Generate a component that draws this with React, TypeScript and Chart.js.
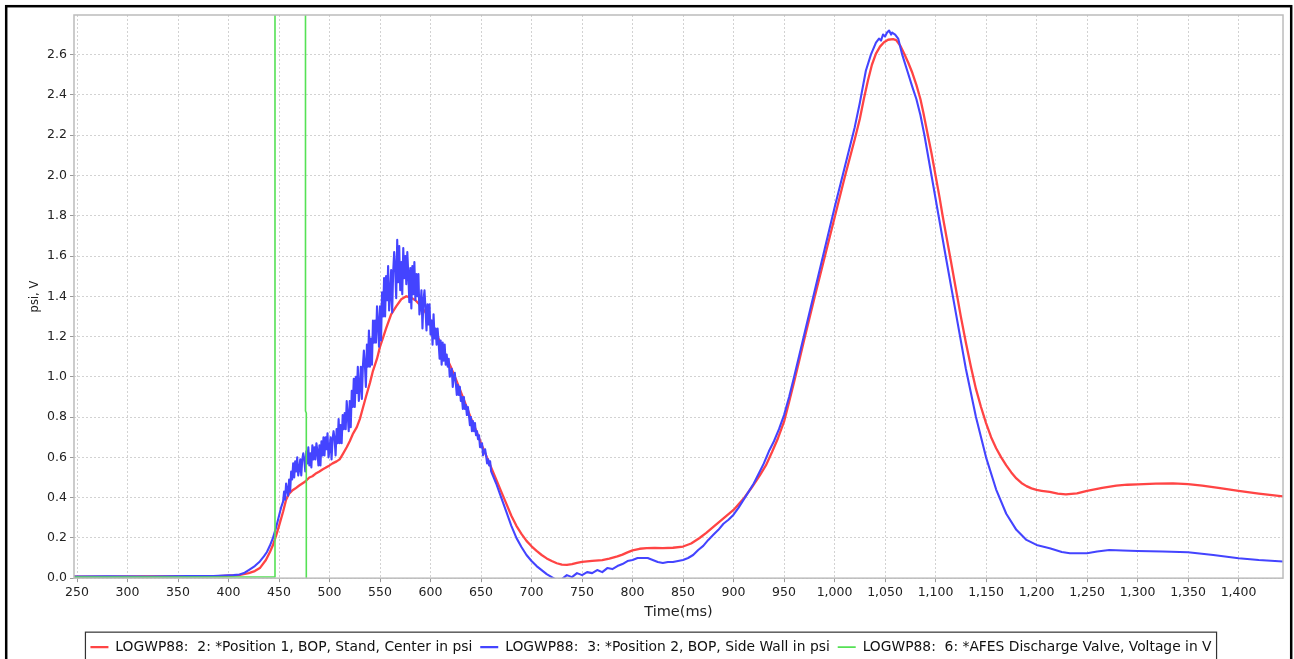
import React, { useEffect, useRef } from "react";
import { Chart, registerables } from "chart.js";

Chart.register(...registerables);

// Time axis range (ms) and psi / V range
const timeMin = 247;
const timeMax = 1444;
const valueMin = 0;
const valueMax = 2.797;
const timeStep = 50;
const valueStep = 0.2;

const xAxisTitle = "Time(ms)";
const yAxisTitle = "psi, V";

const seriesNames = [
  "LOGWP88:  2: *Position 1, BOP, Stand, Center in psi",
  "LOGWP88:  3: *Position 2, BOP, Side Wall in psi",
  "LOGWP88:  6: *AFES Discharge Valve, Voltage in V",
];

// Position 1 (stand, center) pressure trace: [time ms, psi]
const position1: [number, number][] = [
  [247, 0.008], [280, 0.008], [320, 0.009], [360, 0.009], [390, 0.01], [400, 0.012],
  [410, 0.015], [420, 0.025], [426, 0.035], [431, 0.05], [437, 0.09], [441, 0.13],
  [444, 0.165], [447, 0.21], [450, 0.26], [454, 0.33], [457, 0.39], [460, 0.42],
  [463, 0.435], [466, 0.445], [470, 0.46], [473, 0.47], [476, 0.48], [480, 0.5],
  [483, 0.506], [486, 0.518], [490, 0.53], [493, 0.54], [496, 0.548], [500, 0.56],
  [503, 0.57], [507, 0.58], [510, 0.59], [513, 0.615], [517, 0.65], [520, 0.68],
  [523, 0.715], [527, 0.75], [530, 0.79], [533, 0.845], [536, 0.9], [540, 0.97],
  [543, 1.03], [547, 1.09], [550, 1.15], [553, 1.195], [556, 1.24], [561, 1.31],
  [566, 1.35], [571, 1.385], [576, 1.4], [580, 1.395], [585, 1.38], [590, 1.355],
  [595, 1.32], [600, 1.28], [605, 1.225], [610, 1.165], [615, 1.105], [620, 1.05],
  [625, 0.99], [630, 0.925], [635, 0.86], [640, 0.795], [645, 0.735], [650, 0.67],
  [655, 0.61], [660, 0.55], [665, 0.49], [670, 0.43], [675, 0.37], [680, 0.31],
  [685, 0.26], [690, 0.22], [695, 0.185], [700, 0.158], [705, 0.135], [710, 0.115],
  [715, 0.098], [720, 0.085], [725, 0.074], [730, 0.067], [735, 0.066], [740, 0.07],
  [745, 0.076], [750, 0.081], [760, 0.086], [770, 0.09], [777, 0.097], [785, 0.108],
  [790, 0.117], [795, 0.128], [800, 0.138], [807, 0.146], [814, 0.149], [822, 0.15],
  [830, 0.149], [840, 0.151], [850, 0.157], [858, 0.172], [866, 0.198], [873, 0.225],
  [880, 0.255], [890, 0.297], [900, 0.339], [910, 0.395], [918, 0.45], [926, 0.51],
  [932, 0.56], [938, 0.625], [944, 0.695], [950, 0.777], [955, 0.875], [960, 0.975],
  [965, 1.08], [970, 1.185], [980, 1.39], [990, 1.59], [1000, 1.79], [1010, 1.99],
  [1020, 2.18], [1025, 2.28], [1029, 2.38], [1033, 2.47], [1037, 2.55], [1041, 2.605],
  [1045, 2.64], [1049, 2.662], [1053, 2.674], [1058, 2.677], [1061, 2.672], [1065, 2.645],
  [1069, 2.605], [1073, 2.56], [1077, 2.51], [1081, 2.45], [1085, 2.38], [1088, 2.31],
  [1092, 2.21], [1096, 2.11], [1100, 2.0], [1104, 1.89], [1107, 1.8], [1111, 1.69],
  [1115, 1.58], [1120, 1.44], [1125, 1.3], [1130, 1.17], [1135, 1.05], [1140, 0.94],
  [1145, 0.85], [1150, 0.77], [1155, 0.7], [1160, 0.645], [1165, 0.6], [1170, 0.56],
  [1175, 0.525], [1180, 0.495], [1185, 0.473], [1190, 0.457], [1195, 0.446], [1200, 0.438],
  [1205, 0.434], [1213, 0.428], [1221, 0.42], [1229, 0.416], [1240, 0.421], [1250, 0.433],
  [1265, 0.448], [1279, 0.46], [1290, 0.464], [1300, 0.466], [1318, 0.469], [1335, 0.471],
  [1350, 0.467], [1364, 0.46], [1380, 0.448], [1400, 0.433], [1420, 0.42], [1444, 0.406],
];

// Position 2 (side wall) pressure trace before the noisy burst: [time ms, psi]
const position2Rise: [number, number][] = [
  [247, 0.008], [280, 0.009], [320, 0.008], [360, 0.01], [385, 0.011], [395, 0.013],
  [405, 0.015], [411, 0.018], [416, 0.027], [420, 0.04], [426, 0.06], [431, 0.083],
  [435, 0.108], [438, 0.13], [441, 0.162], [444, 0.2], [447, 0.25], [450, 0.31],
  [452, 0.35], [454, 0.38],
];

// Position 2 samples during the noisy burst, one per ms starting at 455 ms
const position2BurstStart = 455;
const position2Burst: number[] = [
  0.43, 0.39, 0.47, 0.44, 0.41, 0.49, 0.43, 0.53, 0.49, 0.57,
  0.50, 0.58, 0.53, 0.60, 0.51, 0.54, 0.59, 0.51, 0.59, 0.62,
  0.59, 0.53, 0.63, 0.57, 0.65, 0.56, 0.62, 0.55, 0.66, 0.59,
  0.65, 0.59, 0.67, 0.63, 0.56, 0.66, 0.56, 0.68, 0.61, 0.70,
  0.61, 0.70, 0.64, 0.72, 0.60, 0.64, 0.70, 0.59, 0.69, 0.73,
  0.69, 0.61, 0.74, 0.67, 0.79, 0.67, 0.76, 0.67, 0.81, 0.74,
  0.82, 0.74, 0.88, 0.81, 0.73, 0.88, 0.75, 0.93, 0.85, 0.99,
  0.85, 1.00, 0.92, 1.05, 0.88, 0.95, 1.05, 0.89, 1.05, 1.13,
  1.06, 0.95, 1.16, 1.05, 1.23, 1.05, 1.19, 1.06, 1.28, 1.17,
  1.28, 1.17, 1.35, 1.27, 1.15, 1.35, 1.18, 1.42, 1.30, 1.49,
  1.30, 1.50, 1.38, 1.55, 1.33, 1.41, 1.53, 1.32, 1.52, 1.62,
  1.54, 1.39, 1.68, 1.47, 1.65, 1.43, 1.57, 1.41, 1.64, 1.49,
  1.60, 1.46, 1.62, 1.51, 1.37, 1.54, 1.34, 1.55, 1.41, 1.57,
  1.38, 1.51, 1.40, 1.51, 1.31, 1.35, 1.43, 1.24, 1.38, 1.43,
  1.34, 1.23, 1.36, 1.26, 1.36, 1.21, 1.28, 1.16, 1.31, 1.19,
  1.24, 1.16, 1.24, 1.17, 1.09, 1.18, 1.06, 1.17, 1.08, 1.16,
  1.06, 1.11, 1.05, 1.09, 1.00, 1.01, 1.04, 0.95, 1.00, 1.02,
  0.97, 0.91, 0.96, 0.91, 0.95, 0.88, 0.90, 0.84, 0.90, 0.84,
  0.86, 0.81, 0.85, 0.81, 0.76, 0.80, 0.73, 0.78, 0.73, 0.77,
  0.71, 0.73, 0.69, 0.71, 0.65, 0.65, 0.67, 0.61, 0.63, 0.64,
  0.61, 0.57, 0.59, 0.56, 0.58, 0.53,
];

// Position 2 trace after the burst: [time ms, psi]
const position2Tail: [number, number][] = [
  [665, 0.47], [670, 0.4], [675, 0.33], [680, 0.26], [685, 0.2], [690, 0.155],
  [695, 0.115], [700, 0.085], [705, 0.06], [710, 0.04], [715, 0.02], [720, 0.005],
  [725, -0.01], [730, -0.005], [735, 0.015], [740, 0.005], [745, 0.025], [750, 0.015],
  [755, 0.03], [760, 0.025], [765, 0.04], [770, 0.03], [775, 0.05], [780, 0.045],
  [785, 0.06], [790, 0.07], [795, 0.085], [800, 0.09], [805, 0.1], [810, 0.1],
  [815, 0.1], [820, 0.09], [825, 0.08], [830, 0.075], [835, 0.08], [840, 0.08],
  [845, 0.085], [850, 0.09], [855, 0.1], [860, 0.115], [865, 0.14], [870, 0.16],
  [875, 0.19], [880, 0.215], [885, 0.24], [890, 0.27], [895, 0.29], [900, 0.315],
  [905, 0.35], [910, 0.39], [915, 0.43], [920, 0.47], [926, 0.53], [930, 0.57],
  [935, 0.63], [940, 0.68], [945, 0.74], [950, 0.81], [955, 0.9], [960, 1.0],
  [970, 1.21], [980, 1.42], [990, 1.63], [1000, 1.84], [1010, 2.04], [1020, 2.24],
  [1025, 2.36], [1031, 2.52], [1036, 2.6], [1041, 2.66], [1044, 2.68], [1046, 2.67],
  [1048, 2.7], [1050, 2.69], [1052, 2.71], [1054, 2.72], [1056, 2.7], [1057, 2.71],
  [1060, 2.7], [1063, 2.68], [1067, 2.6], [1072, 2.52], [1077, 2.44], [1081, 2.38],
  [1085, 2.3], [1089, 2.2], [1096, 2.0], [1103, 1.8], [1110, 1.6], [1120, 1.32],
  [1130, 1.04], [1140, 0.8], [1150, 0.6], [1160, 0.44], [1170, 0.32], [1180, 0.24],
  [1190, 0.19], [1200, 0.165], [1213, 0.149], [1225, 0.13], [1233, 0.124], [1250, 0.124],
  [1260, 0.132], [1272, 0.14], [1285, 0.137], [1300, 0.135], [1325, 0.132], [1350, 0.129],
  [1375, 0.115], [1400, 0.099], [1420, 0.09], [1444, 0.083],
];

// Discharge valve voltage: [time ms, V]
const valveVoltage: [number, number][] = [
  [247, 0.006], [446, 0.006], [446, 12], [476.2, 12], [476.2, 0.83],
  [477, 0.82], [477, -0.06], [1444, -0.06],
];

const seriesColors = ["rgb(255, 68, 68)", "rgb(68, 68, 255)", "rgb(85, 225, 85)"];

const toPoints = (pairs: [number, number][]) => pairs.map(([x, y]) => ({ x, y }));

const position2Points = [
  ...toPoints(position2Rise),
  ...position2Burst.map((y, i) => ({ x: position2BurstStart + i, y })),
  ...toPoints(position2Tail),
];

// White page, black outer frame, light grey plot outline and legend outline
const framePlugin = {
  id: "frame",
  beforeDraw(chart: any) {
    const { ctx, width, height } = chart;
    ctx.save();
    ctx.fillStyle = "#ffffff";
    ctx.fillRect(0, 0, width, height);
    ctx.strokeStyle = "#000000";
    ctx.lineWidth = 2.5;
    ctx.strokeRect(6.2, 6.2, 1285, height + 20);
    ctx.restore();
  },
  afterDraw(chart: any) {
    const { ctx, chartArea } = chart;
    ctx.save();
    ctx.strokeStyle = "#bcbcbc";
    ctx.lineWidth = 1.5;
    ctx.strokeRect(chartArea.left, chartArea.top, chartArea.right - chartArea.left, chartArea.bottom - chartArea.top);
    const boxes = chart.legend?.legendHitBoxes || [];
    if (boxes.length) {
      const left = Math.min(...boxes.map((b: any) => b.left)) - 5;
      const right = Math.max(...boxes.map((b: any) => b.left + b.width)) + 5;
      const top = Math.min(...boxes.map((b: any) => b.top)) - 8;
      ctx.strokeStyle = "#333333";
      ctx.lineWidth = 1.2;
      ctx.strokeRect(left, top, right - left, chart.height + 10 - top);
    }
    ctx.restore();
  },
};

export default function App() {
  const canvasRef = useRef<HTMLCanvasElement | null>(null);

  useEffect(() => {
    const canvas = canvasRef.current;
    if (!canvas) return;
    Chart.defaults.font.family = "'DejaVu Sans', sans-serif";

    const gridColor = "#d2d2d2";
    const chart = new Chart(canvas, {
      type: "line",
      data: {
        datasets: [
          {
            label: seriesNames[0],
            data: toPoints(position1),
            borderColor: seriesColors[0],
            backgroundColor: seriesColors[0],
            borderWidth: 2.3,
            order: 3,
          },
          {
            label: seriesNames[1],
            data: position2Points,
            borderColor: seriesColors[1],
            backgroundColor: seriesColors[1],
            borderWidth: 2.1,
            order: 2,
          },
          {
            label: seriesNames[2],
            data: toPoints(valveVoltage),
            borderColor: seriesColors[2],
            backgroundColor: seriesColors[2],
            borderWidth: 1.6,
            order: 1,
          },
        ],
      },
      options: {
        responsive: false,
        animation: false,
        events: [],
        parsing: false as any,
        elements: {
          point: { radius: 0 },
          line: { tension: 0, borderJoinStyle: "round" },
        },
        layout: { padding: { left: 19, right: 11, top: 15, bottom: 16 } },
        scales: {
          x: {
            type: "linear",
            min: timeMin,
            max: timeMax,
            afterFit: (axis: any) => {
              axis.height = 54;
            },
            ticks: {
              stepSize: timeStep,
              includeBounds: false,
              autoSkip: false,
              maxRotation: 0,
              maxTicksLimit: 40,
              color: "#222222",
              font: { size: 12.5 },
              padding: 3,
            },
            grid: {
              color: gridColor,
              tickColor: "#9a9a9a",
              tickLength: 4,
              lineWidth: 1,
            },
            border: { display: false, dash: [2, 2] },
            title: {
              display: true,
              text: xAxisTitle,
              color: "#222222",
              font: { size: 14.5 },
              padding: { top: 0, bottom: 11.4 },
            },
          },
          y: {
            type: "linear",
            min: valueMin,
            max: valueMax,
            afterFit: (axis: any) => {
              axis.width = 55;
            },
            ticks: {
              stepSize: valueStep,
              includeBounds: false,
              autoSkip: false,
              maxTicksLimit: 30,
              color: "#222222",
              font: { size: 12.5 },
              padding: 3,
              callback: (v: any) => Number(v).toFixed(1),
            },
            grid: {
              color: gridColor,
              tickColor: "#9a9a9a",
              tickLength: 4,
              lineWidth: 1,
            },
            border: { display: false, dash: [2, 2] },
            title: {
              display: true,
              text: yAxisTitle,
              color: "#222222",
              font: { size: 11.5 },
              padding: { top: 9, bottom: 0 },
            },
          },
        },
        plugins: {
          tooltip: { enabled: false },
          legend: {
            position: "bottom",
            labels: {
              usePointStyle: true,
              pointStyle: "line",
              pointStyleWidth: 18,
              padding: 8,
              color: "#111111",
              font: { size: 13.85 },
              sort: (a: any, b: any) => a.datasetIndex - b.datasetIndex,
            },
          },
        },
      },
      plugins: [framePlugin],
    });

    return () => chart.destroy();
  }, []);

  return (
    <div
      style={{
        position: "fixed",
        left: 0,
        top: 0,
        width: 1294,
        height: 659,
        overflow: "hidden",
        background: "#ffffff",
      }}
    >
      <canvas
        ref={canvasRef}
        width={1294}
        height={680}
        style={{ position: "absolute", left: 0, top: 0, width: 1294, height: 680 }}
      />
    </div>
  );
}
